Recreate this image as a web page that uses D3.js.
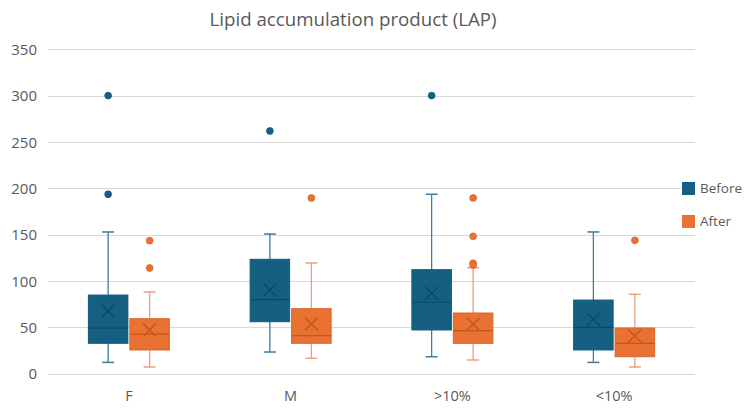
<!DOCTYPE html>
<html><head><meta charset="utf-8">
<script src="https://cdn.jsdelivr.net/npm/d3@7"></script>
<style>body{margin:0;background:#fff;} text{font-family:"Open Sans","Noto Sans",sans-serif;}</style>
</head><body><svg id="c" width="750" height="414"></svg>
<script>
const categories = ["F", "M", ">10%", "<10%"];
const seriesNames = ["Before", "After"];
const yTicks = [0, 50, 100, 150, 200, 250, 300, 350];
// [whiskerLow, q1, median, q3, whiskerHigh, mean]
const before = [
  [12, 32.6, 49, 84.7, 152.8, 67.5],
  [23.2, 55.9, 79.7, 123.3, 150.6, 90.1],
  [18.1, 47, 76.9, 112.1, 193.5, 86.6],
  [12, 25.4, 49.9, 79.3, 152.8, 58.5]
];
const after = [
  [7, 25.4, 42.6, 59.2, 88, 47],
  [16.4, 32.6, 40.8, 70, 119.3, 53.8],
  [14.6, 32.6, 46.2, 65.3, 114.2, 53.1],
  [7, 18.1, 32.6, 49.1, 85.5, 40.5]
];
const beforeOutliers = [[300, 193.5], [261.8], [300], []];
const afterOutliers = [[143.4, 113.9], [189.5], [189.5, 148.1, 119, 117], [143.8]];

const fills = ["#156082", "#E97132"];
const strokes = ["#145a7a", "#d9652b"];
const whiskerC = ["#3d7c9c", "#eba07c"];
const innerC = ["#0f4865", "#c2561c"];

const svg = d3.select("#c");
const x = d3.scaleBand().domain(categories).range([48, 695]);
const xs = d3.scaleBand().domain(seriesNames).range([0, x.bandwidth()]).paddingInner(0.048).paddingOuter(0.973);
const y = d3.scaleLinear().domain([0, 350]).range([373.5, 49.3]);

// gridlines
svg.append("g").selectAll("line").data(yTicks).join("line")
  .attr("x1", 48).attr("x2", 695).attr("y1", d => Math.round(y(d)) + 0.5).attr("y2", d => Math.round(y(d)) + 0.5)
  .attr("stroke", "#d9d9d9").attr("stroke-width", 1);

// y axis
const yAxis = d3.axisLeft(y).tickValues(yTicks).tickSize(0).tickPadding(0);
const yg = svg.append("g").attr("transform", "translate(37,0)").call(yAxis);
yg.select(".domain").remove();
yg.selectAll("text").attr("fill", "#595959").attr("font-size", "15px").attr("dy", "0.35em");

// x axis
const xAxis = d3.axisBottom(x).tickSize(0).tickPadding(0);
const xg = svg.append("g").attr("transform", "translate(0,391)").call(xAxis);
xg.select(".domain").remove();
xg.selectAll("text").attr("fill", "#595959").attr("font-size", "14.5px").attr("dy", "0.71em");

const bw = xs.bandwidth();
const data = [before, after];
const outs = [beforeOutliers, afterOutliers];
seriesNames.forEach((s, si) => {
  const g = svg.append("g");
  categories.forEach((c, ci) => {
    const [wl, q1, med, q3, wh, mean] = data[si][ci];
    const x0 = x(c) + xs(s);
    const cx = x0 + bw / 2;
    // whiskers
    g.append("line").attr("x1", cx).attr("x2", cx).attr("y1", y(wh)).attr("y2", y(q3)).attr("stroke", whiskerC[si]).attr("stroke-width", 1.3);
    g.append("line").attr("x1", cx).attr("x2", cx).attr("y1", y(q1)).attr("y2", y(wl)).attr("stroke", whiskerC[si]).attr("stroke-width", 1.3);
    g.append("line").attr("x1", cx - 6).attr("x2", cx + 6).attr("y1", y(wh)).attr("y2", y(wh)).attr("stroke", whiskerC[si]).attr("stroke-width", 1.5);
    g.append("line").attr("x1", cx - 6).attr("x2", cx + 6).attr("y1", y(wl)).attr("y2", y(wl)).attr("stroke", whiskerC[si]).attr("stroke-width", 1.5);
    // box
    g.append("rect").attr("x", x0).attr("width", bw).attr("y", y(q3)).attr("height", y(q1) - y(q3))
      .attr("fill", fills[si]).attr("stroke", strokes[si]).attr("stroke-width", 1);
    // median
    g.append("line").attr("x1", x0).attr("x2", x0 + bw).attr("y1", y(med)).attr("y2", y(med)).attr("stroke", innerC[si]).attr("stroke-width", 1.2);
    // mean X
    const my = y(mean), h = 6.5;
    g.append("path").attr("d", `M${cx-h},${my-h}L${cx+h},${my+h}M${cx-h},${my+h}L${cx+h},${my-h}`)
      .attr("stroke", innerC[si]).attr("stroke-width", 1.4).attr("fill", "none");
    // outliers
    g.selectAll(null).data(outs[si][ci]).join("circle")
      .attr("cx", cx).attr("cy", d => y(d)).attr("r", 3.4).attr("fill", fills[si]).attr("stroke", strokes[si]).attr("stroke-width", 0.8);
  });
});

// title
svg.append("text").attr("x", 353).attr("y", 26).attr("text-anchor", "middle")
  .attr("fill", "#595959").attr("font-size", "18.7px").text("Lipid accumulation product (LAP)");

// legend
const lg = svg.append("g");
const ly = [182, 215];
seriesNames.forEach((s, i) => {
  lg.append("rect").attr("x", 682).attr("y", ly[i]).attr("width", 13).attr("height", 13).attr("fill", fills[i]);
  lg.append("text").attr("x", 700).attr("y", ly[i] + 6.5).attr("dy", "0.35em").attr("fill", "#595959").attr("font-size", "13.5px").text(s);
});
</script></body></html>
